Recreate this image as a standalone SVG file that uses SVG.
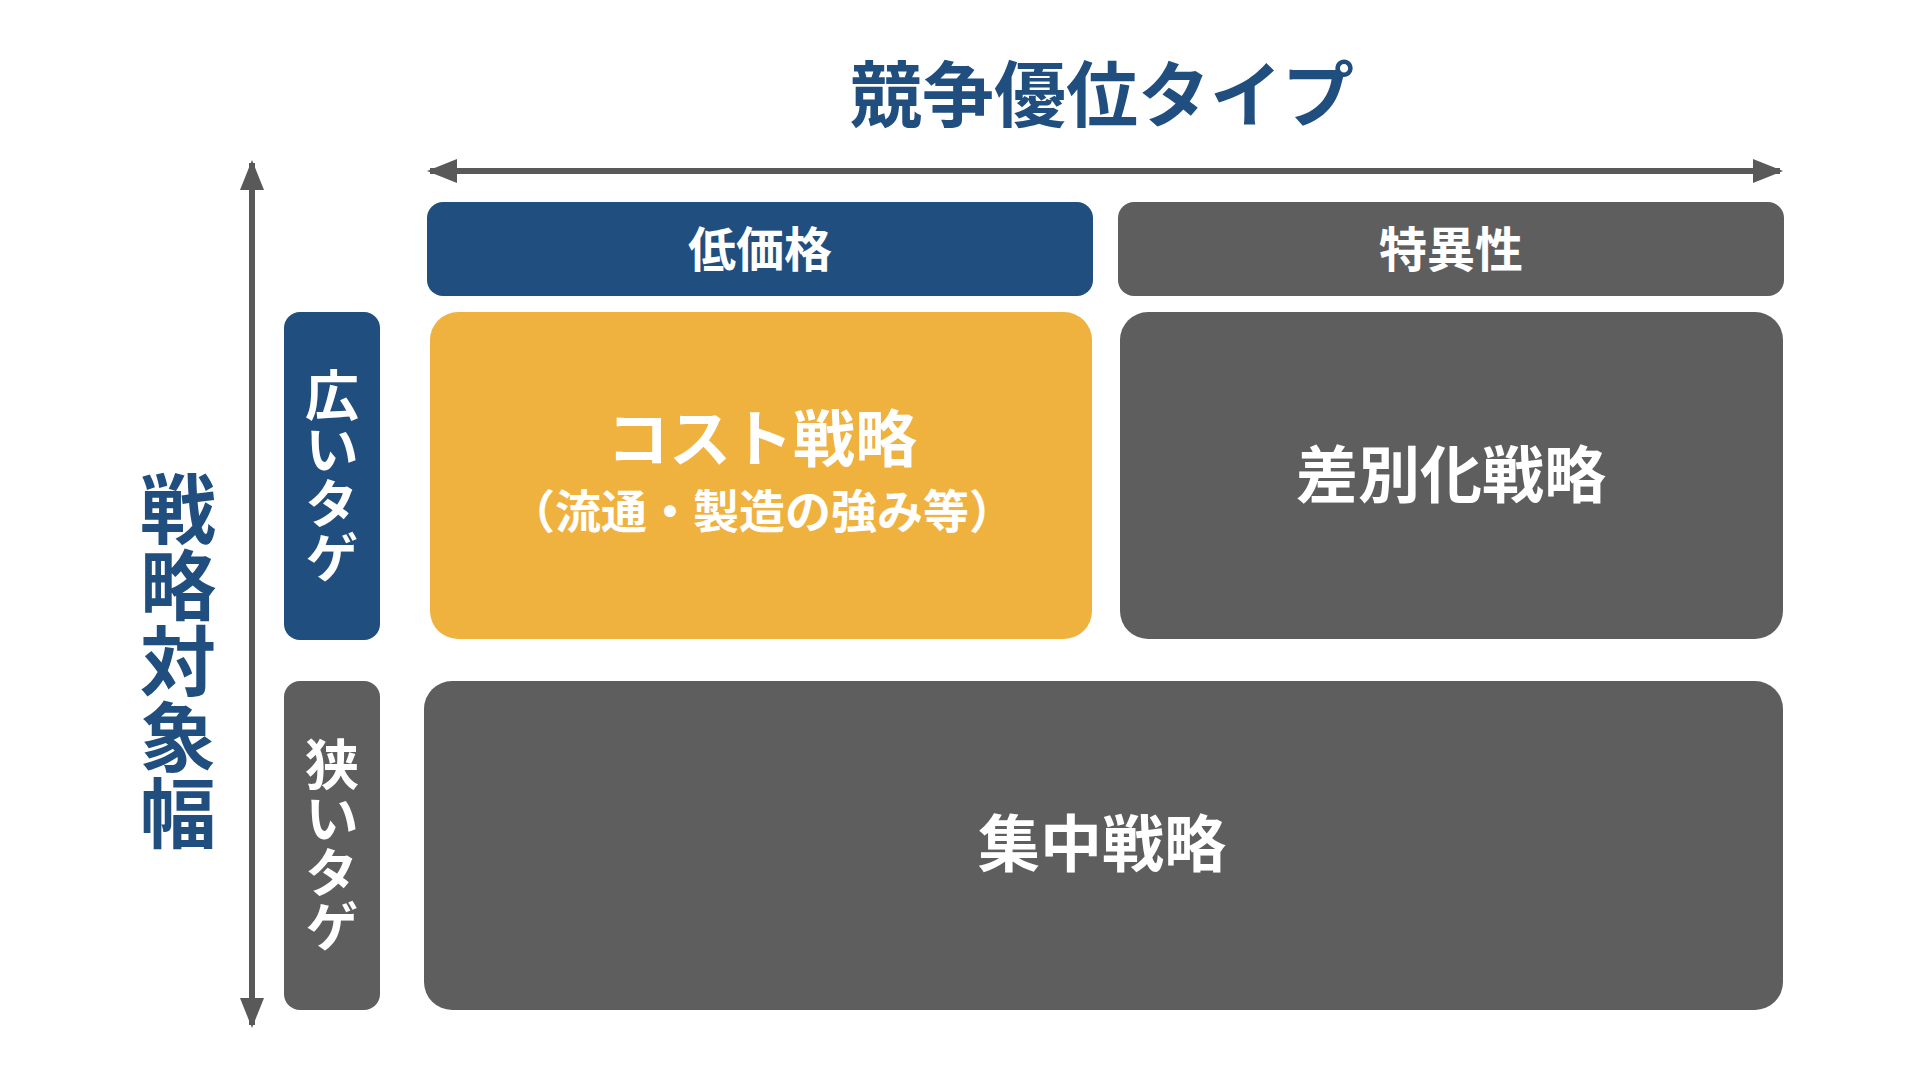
<svg xmlns="http://www.w3.org/2000/svg" width="1920" height="1080" viewBox="0 0 1920 1080">
<defs>
<style>
text{font-family:"Noto Sans CJK JP","Noto Sans",sans-serif;font-weight:700;fill:#fff;text-anchor:middle}
.navy{fill:#1F4E7F}.gray{fill:#5E5E5E}.org{fill:#F0B23F}
.v{writing-mode:vertical-rl;text-orientation:upright;dominant-baseline:central}
.ax{stroke:#595959;stroke-width:6;fill:none}
</style>
<marker id="ah" viewBox="0 0 10 10" refX="9" refY="5" markerWidth="5" markerHeight="5" orient="auto-start-reverse" markerUnits="strokeWidth"><path d="M0,1 L10,5 L0,9 z" fill="#595959"/></marker>
</defs>
<rect width="1920" height="1080" fill="#fff"/>
<g id="title"><text x="1102" y="121" style="font-size:72px;fill:#1F4E7F">競争優位タイプ</text></g>
<g id="axis-label"><text class="v" x="178" y="661" style="font-size:76px;fill:#1F4E7F">戦略対象幅</text></g>
<g id="connectors">
<line class="ax" x1="430" y1="171" x2="1780" y2="171" marker-start="url(#ah)" marker-end="url(#ah)"/>
<line class="ax" x1="252" y1="163" x2="252" y2="1025" marker-start="url(#ah)" marker-end="url(#ah)"/>
</g>
<g id="h-low"><rect class="navy" x="427" y="202" width="666" height="94" rx="16"/><text x="760" y="267" style="font-size:48px">低価格</text></g>
<g id="h-diff"><rect class="gray" x="1118" y="202" width="666" height="94" rx="16"/><text x="1451" y="267" style="font-size:48px">特異性</text></g>
<g id="r-wide"><rect class="navy" x="284" y="312" width="96" height="328" rx="16"/><text class="v" x="332" y="476" style="font-size:54px">広いタゲ</text></g>
<g id="r-narrow"><rect class="gray" x="284" y="681" width="96" height="329" rx="16"/><text class="v" x="332" y="845" style="font-size:54px">狭いタゲ</text></g>
<g id="cost"><rect class="org" x="430" y="312" width="662" height="327" rx="28"/><text x="762" y="462" style="font-size:62px">コスト戦略</text><text x="762" y="528" style="font-size:46px">（流通・製造の強み等）</text></g>
<g id="diff"><rect class="gray" x="1120" y="312" width="663" height="327" rx="28"/><text x="1451" y="498" style="font-size:62px">差別化戦略</text></g>
<g id="focus"><rect class="gray" x="424" y="681" width="1359" height="329" rx="28"/><text x="1102" y="867" style="font-size:62px">集中戦略</text></g>
</svg>
